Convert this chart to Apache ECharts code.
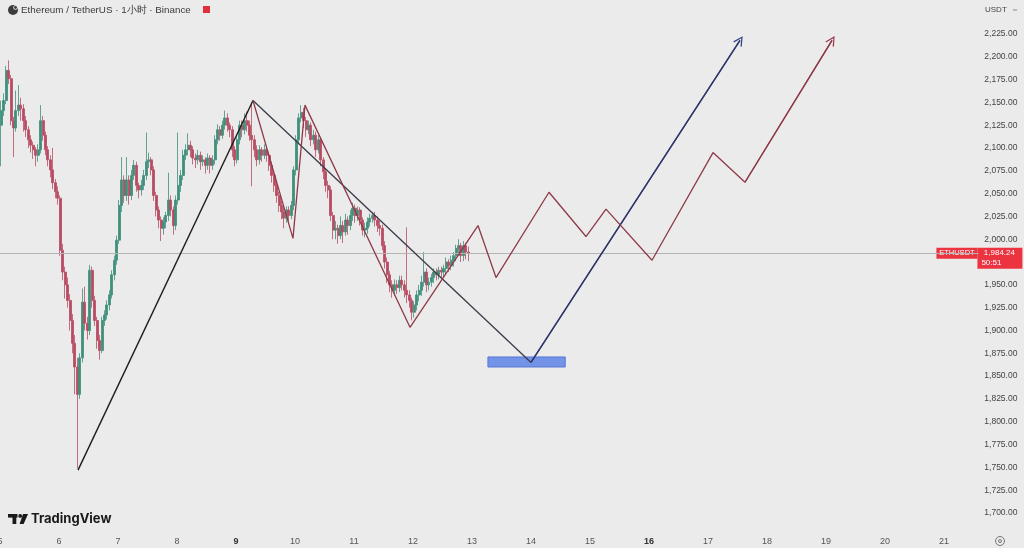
<!DOCTYPE html>
<html><head><meta charset="utf-8">
<script src="https://cdn.jsdelivr.net/npm/echarts@6/dist/echarts.min.js"></script>
<style>html,body{margin:0;padding:0;background:#ebebeb;}#c{width:1024px;height:548px;}</style>
</head><body><div id="c"></div>
<script>
// ---- data ----
const title = 'Ethereum / TetherUS · 1小时 · Binance';
const quote = 'USDT';
const symbol = 'ETHUSDT';
const countdown = '50:51';
const hourSlots = 398;              // hourly slots shown, starting day 5 00:00
const dayTicks = [5,6,7,8,9,10,11,12,13,14,15,16,17,18,19,20,21];
const boldDays = [9,16];
const priceMinLabel = 1700, priceMaxLabel = 2225, hiddenPrice = 1975;
// hourly candles [open, close, low, high]
const candles = [
[2125,2141,2080,2152],[2141,2152,2135,2160],[2152,2185,2148,2190],[2185,2176,2170,2196],[2176,2130,2125,2180],
[2130,2122,2090,2134],[2122,2141,2118,2163],[2141,2147,2135,2169],[2147,2143,2130,2155],[2143,2130,2118,2148],
[2130,2120,2112,2135],[2120,2109,2100,2124],[2109,2103,2095,2114],[2103,2098,2088,2107],[2098,2092,2080,2101],
[2092,2098,2085,2104],[2098,2130,2094,2147],[2130,2114,2108,2135],[2114,2098,2092,2118],[2098,2087,2080,2102],
[2087,2076,2068,2092],[2076,2062,2055,2100],[2062,2052,2045,2066],[2052,2045,2038,2058],[2045,1988,1982,2048],
[1988,1964,1955,1995],[1964,1950,1935,1970],[1950,1933,1925,1958],[1933,1911,1900,1940],[1911,1886,1875,1918],
[1886,1860,1830,1895],[1860,1830,1749,1870],[1830,1870,1825,1875],[1870,1931,1865,1946],[1931,1908,1900,1948],
[1908,1900,1890,1915],[1900,1966,1895,1972],[1966,1933,1925,1970],[1933,1911,1905,1938],[1911,1889,1880,1915],
[1889,1878,1868,1895],[1878,1911,1875,1915],[1911,1917,1905,1922],[1917,1928,1912,1933],[1928,1939,1922,1944],
[1939,1961,1935,1966],[1961,1977,1955,1982],[1977,1999,1972,2004],[1999,2037,1995,2043],[2037,2065,2030,2090],
[2065,2048,2040,2070],[2048,2065,2042,2090],[2065,2048,2038,2070],[2048,2070,2043,2076],[2070,2081,2065,2087],
[2081,2059,2052,2085],[2059,2054,2045,2062],[2054,2059,2048,2065],[2059,2070,2054,2076],[2070,2085,2065,2117],
[2085,2087,2078,2095],[2087,2076,2070,2090],[2076,2048,2042,2080],[2048,2032,2025,2052],[2032,2021,2012,2036],
[2021,2012,1998,2025],[2012,2019,2005,2024],[2019,2026,2012,2030],[2026,2043,2020,2073],[2043,2032,2025,2048],
[2032,2015,2005,2036],[2015,2043,2010,2048],[2043,2059,2038,2117],[2059,2070,2052,2076],[2070,2092,2065,2098],
[2092,2098,2087,2104],[2098,2103,2092,2116],[2103,2098,2090,2108],[2098,2089,2082,2102],[2089,2087,2078,2094],
[2087,2092,2082,2098],[2092,2085,2076,2096],[2085,2087,2080,2092],[2087,2081,2072,2090],[2081,2089,2076,2094],
[2089,2081,2072,2092],[2081,2087,2076,2092],[2087,2109,2082,2114],[2109,2120,2104,2126],[2120,2114,2108,2124],
[2114,2125,2110,2130],[2125,2133,2120,2141],[2133,2125,2118,2138],[2125,2120,2112,2128],[2120,2098,2090,2124],
[2098,2087,2080,2102],[2087,2109,2083,2114],[2109,2125,2104,2130],[2125,2120,2112,2130],[2120,2130,2115,2138],
[2130,2125,2118,2140],[2125,2114,2108,2130],[2114,2109,2058,2150],[2109,2098,2090,2114],[2098,2087,2080,2103],
[2087,2098,2082,2103],[2098,2092,2085,2101],[2092,2098,2088,2104],[2098,2092,2085,2102],[2092,2081,2075,2096],
[2081,2070,2062,2085],[2070,2059,2052,2074],[2059,2048,2040,2063],[2048,2037,2030,2052],[2037,2030,2022,2042],
[2030,2023,2012,2035],[2023,2032,2018,2036],[2032,2026,2018,2036],[2026,2037,2022,2042],[2037,2076,2032,2080],
[2076,2109,2070,2114],[2109,2133,2104,2138],[2133,2139,2128,2147],[2139,2130,2122,2144],[2130,2120,2112,2134],
[2120,2125,2115,2130],[2125,2109,2102,2128],[2109,2114,2104,2120],[2114,2098,2090,2118],[2098,2109,2094,2114],
[2109,2087,2080,2112],[2087,2074,2066,2090],[2074,2059,2052,2078],[2059,2054,2045,2064],[2054,2026,2020,2058],
[2026,2010,2000,2030],[2010,2012,2000,2020],[2012,2004,1995,2016],[2004,2015,2000,2025],[2015,2008,1996,2020],
[2008,2021,2004,2028],[2021,2015,2005,2025],[2015,2026,2010,2032],[2026,2034,2020,2040],[2034,2026,2018,2038],
[2026,2032,2020,2036],[2032,2021,2015,2035],[2021,2010,2004,2024],[2010,2012,2002,2018],[2012,2019,2006,2024],
[2019,2023,2014,2028],[2023,2026,2018,2030],[2026,2021,2014,2030],[2021,2015,2008,2025],[2015,2012,2004,2020],
[2012,1993,1988,2016],[1993,1975,1968,1998],[1975,1961,1952,1980],[1961,1950,1942,1965],[1950,1944,1936,1955],
[1944,1950,1938,1956],[1950,1947,1940,1955],[1947,1955,1942,1960],[1955,1950,1944,1960],[1950,1944,1936,1955],
[1944,1939,1930,2013],[1939,1933,1925,1944],[1933,1920,1911,1936],[1920,1928,1914,1932],[1928,1939,1922,1944],
[1939,1944,1932,1950],[1944,1953,1938,1960],[1953,1964,1948,1986],[1964,1950,1942,1968],[1950,1953,1944,1958],
[1953,1958,1948,1962],[1958,1964,1952,1968],[1964,1961,1955,1968],[1961,1966,1956,1970],[1966,1964,1958,1970],
[1964,1968,1958,1972],[1968,1975,1962,1980],[1975,1971,1964,1978],[1971,1977,1966,1982],[1977,1982,1970,1986],
[1982,1990,1976,1994],[1990,1993,1984,2000],[1993,1982,1975,1996],[1982,1993,1976,1998],[1993,1986,1978,1996],
[1986,1984.24,1976,1992]
];
const lastPrice = 1984.24;
// drawings: [day, price]
const blackLeg = [[6.322,1747],[9.288,2152]];
const trendLine = [[9.288,2152],[14.0,1865]];
const blueLeg = [[14.0,1865],[17.542,2218]];
const redPath = [[9.288,2152],[9.966,2001],[10.169,2147],[11.949,1903.5],[13.102,2015],[13.407,1958],
  [14.305,2051.5],[14.932,2003],[15.271,2033],[16.051,1977],[17.085,2095],[17.627,2062.5],[19.102,2218]];
const zone = [[13.27,1871],[14.58,1860]];

// ---- chart ----
const chart = echarts.init(document.getElementById('c'));
const dayMin = 5, dayMax = 5 + hourSlots/24;
const slots = Array.from({length: hourSlots}, (_, i) => String(i));
const chevron = 'path://M0,12 L6,0 L12,12 L10.6,12.7 L6,3.2 L1.4,12.7 Z';
const fmtPrice = v => v.toFixed(2).replace(/\B(?=(\d{3})+(?!\d))/g, ',');
const font = '"Liberation Sans", Arial, sans-serif';
function arrowLine(pts, color) {
  const a = pts[pts.length-2], b = pts[pts.length-1];
  return {symbol:['none', chevron], symbolSize:[10,10], silent:true, animation:false,
    lineStyle:{color, width:1.3, type:'solid'}, label:{show:false},
    data:[[{coord:a},{coord:b}]]};
}
const gridW = hourSlots/24*59;
chart.setOption({
  backgroundColor:'#ebebeb',
  animation:false,
  textStyle:{fontFamily:font},
  grid:{left:0, top:0, width:gridW, bottom:12.2, containLabel:false, outerBoundsMode:'none'},
  xAxis:[
    {type:'category', data:slots, show:false, boundaryGap:true},
    {type:'value', min:dayMin, max:dayMax, interval:1, position:'bottom',
     axisLine:{show:false}, axisTick:{show:false}, splitLine:{show:false},
     axisLabel:{margin:1, fontSize:9, color:'#555', fontFamily:font, hideOverlap:false,
       formatter:v => (Number.isInteger(v) && dayTicks.includes(v)) ? (boldDays.includes(v) ? '{b|'+v+'}' : String(v)) : '',
       rich:{b:{fontWeight:'bold', fontSize:9, color:'#333', fontFamily:font}}}}
  ],
  yAxis:{type:'value', position:'right', min:1675, max:2262.2, interval:25, scale:true,
    axisLine:{show:false}, axisTick:{show:false}, splitLine:{show:false},
    axisLabel:{align:'right', margin:39, fontSize:8.5, color:'#444', fontFamily:font,
      formatter:v => (v < priceMinLabel || v > priceMaxLabel || v === hiddenPrice) ? '' : fmtPrice(v)}},
  series:[
    {type:'candlestick', xAxisIndex:0, data:candles, barWidth:2.5,
     itemStyle:{color:'#3f8f7b', color0:'#b84b62', borderColor:'#3f8f7b', borderColor0:'#b84b62', borderWidth:0.8},
     markLine:{symbol:'none', silent:true, animation:false, label:{show:false},
       lineStyle:{color:'#b4b4b4', width:1, type:'solid'}, data:[{yAxis:lastPrice}]}},
    {type:'line', xAxisIndex:1, data:blackLeg, symbol:'none', lineStyle:{color:'#1e1e1e', width:1.4}, z:5},
    {type:'line', xAxisIndex:1, data:trendLine, symbol:'none', lineStyle:{color:'#3a3b48', width:1.3}, z:5},
    {type:'line', xAxisIndex:1, data:blueLeg, symbol:'none', lineStyle:{color:'#2f3566', width:1.3}, z:5,
     markLine:arrowLine(blueLeg, '#34408c')},
    {type:'line', xAxisIndex:1, data:redPath, symbol:'none', lineStyle:{color:'#8e3a48', width:1.3}, z:5,
     markLine:arrowLine(redPath, '#9a3b4b'),
     markArea:{silent:true, itemStyle:{color:'#7393e6', borderColor:'#5677d6', borderWidth:1},
       data:[[{coord:zone[0]},{coord:zone[1]}]]}}
  ]
});

const py = chart.convertToPixel({yAxisIndex:0}, lastPrice);
const gx = chart.convertToPixel({xAxisIndex:1}, dayMax);
const red = '#ec3340';
chart.setOption({graphic:[
  // header
  {type:'circle', shape:{cx:13, cy:10, r:5}, style:{fill:'#3c3c3c'}},
  {type:'circle', shape:{cx:15.5, cy:7.5, r:2.2}, style:{fill:'#ebebeb'}},
  {type:'circle', shape:{cx:15.5, cy:7.5, r:1.4}, style:{fill:'#3c3c3c'}},
  {type:'text', x:21, y:10, style:{text:title, fontSize:9.8, fill:'#3a3a3a', fontFamily:font, verticalAlign:'middle'}},
  {type:'rect', shape:{x:203, y:6, width:7, height:7}, style:{fill:'#e0303c'}},
  {type:'text', x:985, y:10, style:{text:quote, fontSize:8, fill:'#444', fontFamily:font, verticalAlign:'middle'}},
  {type:'rect', shape:{x:1013, y:9.5, width:4, height:1}, style:{fill:'#888'}},
  // price tag
  {type:'rect', shape:{x:gx-42, y:py-6, width:41, height:11}, style:{fill:red}},
  {type:'text', x:gx-21.5, y:py-0.5, style:{text:symbol, fontSize:7.5, fill:'#fff', fontFamily:font, align:'center', verticalAlign:'middle'}},
  {type:'rect', shape:{x:gx-1, y:py-6, width:45, height:21}, style:{fill:red}},
  {type:'text', x:gx+21, y:py-0.5, style:{text:fmtPrice(lastPrice), fontSize:8, fill:'#fff', fontFamily:font, align:'center', verticalAlign:'middle'}},
  {type:'text', x:gx+13, y:py+9.5, style:{text:countdown, fontSize:8, fill:'#fff', fontFamily:font, align:'center', verticalAlign:'middle'}},
  // TradingView logo
  {type:'rect', shape:{x:8, y:514, width:9.5, height:3.6}, style:{fill:'#1a1a1a'}},
  {type:'rect', shape:{x:12.5, y:514, width:3.8, height:10}, style:{fill:'#1a1a1a'}},
  {type:'circle', shape:{cx:20.2, cy:515.9, r:1.9}, style:{fill:'#1a1a1a'}},
  {type:'polygon', shape:{points:[[23,514],[28,514],[23.6,524],[19.6,524]]}, style:{fill:'#1a1a1a'}},
  {type:'text', x:31, y:519.5, style:{text:'TradingView', fontSize:13, fontWeight:'bold', fill:'#1a1a1a', fontFamily:'Inter, "Liberation Sans", sans-serif', verticalAlign:'middle'}},
  // settings icon
  {type:'circle', shape:{cx:1000, cy:541, r:4.5}, style:{fill:'none', stroke:'#777', lineWidth:1}},
  {type:'circle', shape:{cx:1000, cy:541, r:1.5}, style:{fill:'none', stroke:'#777', lineWidth:1}}
]});
</script></body></html>
